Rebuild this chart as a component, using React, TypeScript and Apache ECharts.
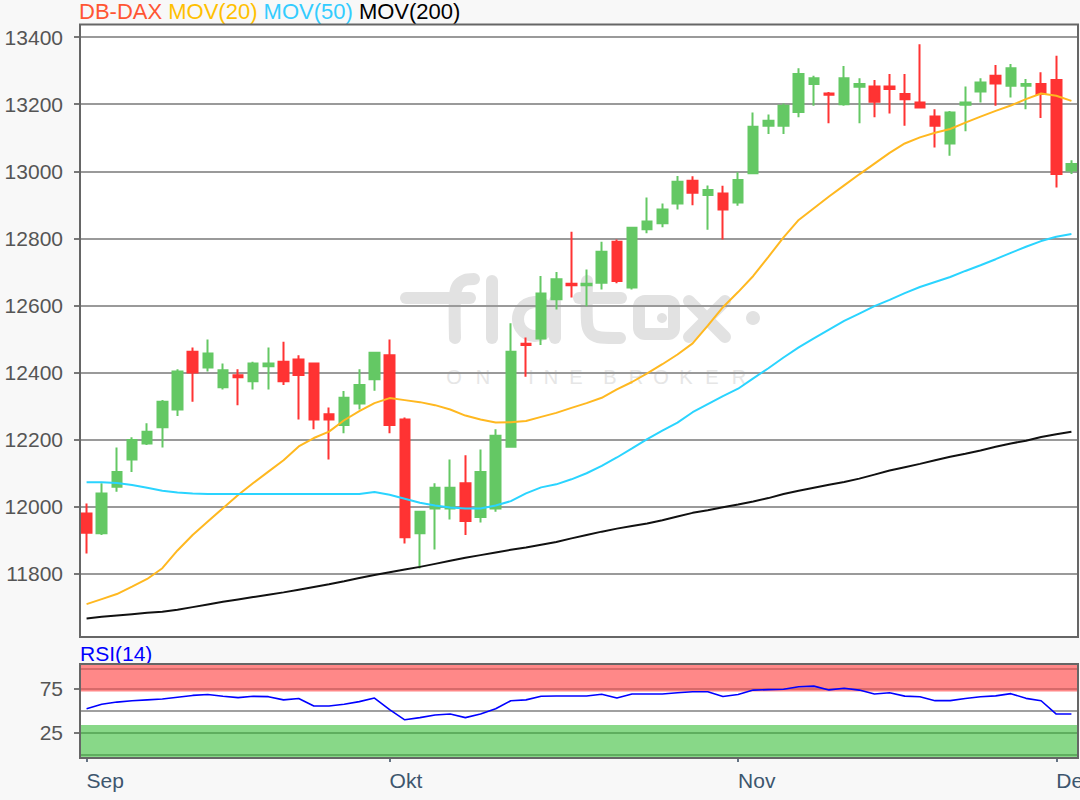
import React, { useEffect, useRef } from "react";
import * as echarts from "echarts";

// ---- data ----
const categories = [
  "03.09.2019", "04.09.2019", "05.09.2019", "06.09.2019", "09.09.2019", "10.09.2019", "11.09.2019", "12.09.2019", "13.09.2019", "16.09.2019",
  "17.09.2019", "18.09.2019", "19.09.2019", "20.09.2019", "23.09.2019", "24.09.2019", "25.09.2019", "26.09.2019", "27.09.2019", "30.09.2019",
  "01.10.2019", "02.10.2019", "03.10.2019", "04.10.2019", "07.10.2019", "08.10.2019", "09.10.2019", "10.10.2019", "11.10.2019", "14.10.2019",
  "15.10.2019", "16.10.2019", "17.10.2019", "18.10.2019", "21.10.2019", "22.10.2019", "23.10.2019", "24.10.2019", "25.10.2019", "28.10.2019",
  "29.10.2019", "30.10.2019", "31.10.2019", "01.11.2019", "04.11.2019", "05.11.2019", "06.11.2019", "07.11.2019", "08.11.2019", "11.11.2019",
  "12.11.2019", "13.11.2019", "14.11.2019", "15.11.2019", "18.11.2019", "19.11.2019", "20.11.2019", "21.11.2019", "22.11.2019", "25.11.2019",
  "26.11.2019", "27.11.2019", "28.11.2019", "29.11.2019", "02.12.2019", "03.12.2019",
];

const opens = [
  11980, 11921, 12060, 12141, 12189, 12237, 12290, 12462, 12415, 12356,
  12392, 12374, 12419, 12432, 12439, 12427, 12276, 12244, 12308, 12380,
  12452, 12260, 11921, 11995, 11995, 12070, 11970, 11995, 12179, 12486,
  12502, 12619, 12665, 12660, 12668, 12790, 12654, 12827, 12845, 12904,
  12972, 12929, 12934, 12907, 12994, 13136, 13136, 13177, 13260, 13232,
  13200, 13252, 13253, 13253, 13230, 13205, 13163, 13083, 13198, 13238,
  13285, 13255, 13255, 13260, 13272, 13002,
];
const closes = [
  11923, 12040, 12104, 12199, 12224, 12313, 12403, 12400, 12457, 12407,
  12386, 12427, 12427, 12374, 12393, 12260, 12260, 12325, 12363, 12459,
  12244, 11909, 11985, 12057, 12057, 11958, 12104, 12212, 12462, 12482,
  12636, 12678, 12660, 12665, 12760, 12673, 12832, 12850, 12886, 12969,
  12936, 12944, 12886, 12974, 13133, 13151, 13195, 13290, 13277, 13228,
  13277, 13260, 13207, 13245, 13215, 13190, 13136, 13175, 13205, 13265,
  13262, 13307, 13260, 13230, 12992, 13022,
];
const lows = [
  11861, 11916, 12045, 12104, 12184, 12177, 12271, 12313, 12403, 12350,
  12303, 12350, 12350, 12363, 12260, 12231, 12141, 12219, 12290, 12346,
  12219, 11891, 11816, 11873, 11962, 11916, 11953, 11985, 12179, 12388,
  12482, 12588, 12624, 12598, 12648, 12666, 12648, 12815, 12833, 12886,
  12899, 12826, 12797, 12897, 12994, 13111, 13111, 13161, 13195, 13143,
  13195, 13143, 13161, 13172, 13136, 13190, 13071, 13046, 13119, 13205,
  13195, 13220, 13185, 13159, 12952, 12992,
];
const highs = [
  12010, 12070, 12177, 12207, 12249, 12318, 12410, 12475, 12499, 12427,
  12410, 12432, 12475, 12492, 12452, 12427, 12296, 12345, 12410, 12462,
  12499, 12266, 11985, 12070, 12141, 12154, 12171, 12231, 12547, 12505,
  12688, 12700, 12820, 12707, 12790, 12797, 12832, 12922, 12904, 12986,
  12985, 12958, 12957, 12997, 13175, 13169, 13202, 13307, 13285, 13236,
  13314, 13277, 13272, 13290, 13290, 13379, 13185, 13180, 13253, 13277,
  13317, 13320, 13275, 13295, 13344, 13033,
];

const mov20 = [
  11710, 11725, 11740, 11762, 11785, 11817, 11870, 11916, 11956, 11996,
  12035, 12071, 12105, 12139, 12180, 12205, 12224, 12258, 12285, 12309,
  12324, 12318, 12312, 12303, 12290, 12272, 12260, 12251, 12252, 12256,
  12268, 12280, 12295, 12309, 12325, 12350, 12372, 12398, 12425, 12454,
  12487, 12540, 12595, 12640, 12688, 12745, 12803, 12855, 12890, 12925,
  12958, 12991, 13023, 13055, 13083, 13101, 13115, 13126, 13145, 13163,
  13180, 13196, 13215, 13232, 13225, 13210,
];
const mov50 = [
  12073, 12073, 12071, 12065, 12057, 12048, 12043, 12040, 12038, 12038,
  12038, 12038, 12038, 12038, 12038, 12038, 12038, 12038, 12038, 12044,
  12036, 12024, 12012, 12004, 11998, 11995, 11995, 12004, 12017, 12040,
  12058, 12067, 12082, 12100, 12122, 12147, 12174, 12202, 12227, 12251,
  12282, 12306, 12330, 12352, 12383, 12413, 12445, 12475, 12502, 12528,
  12554, 12576, 12598, 12617, 12637, 12655, 12670, 12685, 12703, 12720,
  12738, 12757, 12775, 12792, 12805, 12813,
];
const mov200 = [
  11667, 11672, 11676, 11680, 11684, 11687, 11693, 11701, 11709, 11717,
  11724, 11731, 11738, 11745, 11753, 11761, 11769, 11778, 11788, 11797,
  11805, 11813, 11821, 11830, 11839, 11848, 11856, 11864, 11872, 11879,
  11887, 11895, 11906, 11916, 11926, 11935, 11943, 11950, 11960, 11971,
  11982, 11990, 11999, 12007, 12016, 12026, 12038, 12048, 12057, 12066,
  12074, 12084, 12096, 12108, 12118, 12128, 12139, 12149, 12158, 12168,
  12179, 12189, 12197, 12208, 12216, 12224,
];
const rsi14 = [
  52, 57, 59.5, 61, 62, 63, 65, 67, 68, 66,
  64.5, 66, 65.6, 62, 63.5, 55, 55, 57, 60, 64,
  51, 39.5, 42, 45, 46, 42, 46, 52, 61, 62,
  66, 66.3, 66.3, 66.3, 68.4, 64, 68.6, 68.6, 68.6, 70,
  71.2, 71.2, 65.8, 68, 73, 73.5, 74, 76.8, 77.5, 73.2,
  75, 73, 68.6, 70, 66.2, 65.5, 61.1, 61.1, 63.5, 65.5,
  66.5, 69, 63.7, 61, 46, 46,
];

const priceTicks = [11800, 12000, 12200, 12400, 12600, 12800, 13000, 13200, 13400];
const rsiTicks = [25, 75];
const rsiOverbought = [71.4, 101.3];
const rsiOversold = [-2.7, 33.6];
const monthNames: Record<string, string> = { "09": "Sep", "10": "Okt", "11": "Nov", "12": "Dez" };

const FONT = '"Liberation Sans", Arial, sans-serif';
const GREEN = "#64c864";
const RED = "#ff3333";
const WM = "#e2e2e2";

const monthOf = (s: string) => s.slice(3, 5);
const isMonthStart = (i: number) => i === 0 || monthOf(categories[i]) !== monthOf(categories[i - 1]);

function buildOption(): any {
  const candles = categories.map((_, i) => [opens[i], closes[i], lows[i], highs[i]]);
  const stroke = (points: number[][], w = 12) => ({
    type: "polyline",
    silent: true,
    z: -1,
    shape: { points, smooth: 0.3 },
    style: { stroke: WM, lineWidth: w, lineCap: "round", lineJoin: "round", fill: null },
  });
  const wmLetters: [string, number][] = [
    ["O", 454], ["N", 483], ["L", 511], ["I", 531], ["N", 551], ["E", 576],
    ["B", 610], ["R", 636], ["O", 661], ["K", 686], ["E", 712], ["R", 739],
  ];
  const graphics: any[] = [
    { type: "rect", silent: true, z: -2, shape: { x: 80, y: 24, width: 998, height: 613 }, style: { fill: "#ffffff" } },
    { type: "rect", silent: true, z: -2, shape: { x: 80, y: 664, width: 998, height: 94 }, style: { fill: "#ffffff" } },
    // watermark "flatex"
    stroke([[455, 338], [455, 296], [458, 285], [465, 280], [474, 279]]),
    stroke([[406, 298], [470, 298]]),
    stroke([[492, 281], [492, 338]]),
    { type: "circle", silent: true, z: -1, shape: { cx: 535, cy: 319, r: 17 }, style: { stroke: WM, lineWidth: 12, fill: "rgba(0,0,0,0)" } },
    stroke([[555, 301], [555, 338]]),
    stroke([[587, 281], [587, 322], [590, 332], [598, 337], [620, 338]]),
    stroke([[579, 298], [621, 298]]),
    { type: "rect", silent: true, z: -1, shape: { x: 639, y: 301, width: 35, height: 33, r: 6 }, style: { stroke: WM, lineWidth: 12, fill: "rgba(0,0,0,0)" } },
    { type: "circle", silent: true, z: -1, shape: { cx: 662, cy: 318, r: 5 }, style: { fill: WM } },
    stroke([[689, 301], [725, 337]]),
    stroke([[725, 301], [689, 337]]),
    { type: "circle", silent: true, z: -1, shape: { cx: 753, cy: 318, r: 7 }, style: { fill: WM } },
    ...wmLetters.map(([ch, x]) => ({
      type: "text",
      silent: true,
      z: -1,
      style: { text: ch, x, y: 377, fill: "#e6e6e6", font: `20px ${FONT}`, textAlign: "center", textVerticalAlign: "middle" },
    })),
    // borders
    { type: "rect", silent: true, z: 100, shape: { x: 80, y: 24.5, width: 998, height: 612.5 }, style: { fill: "rgba(0,0,0,0)", stroke: "#666", lineWidth: 2 } },
    { type: "rect", silent: true, z: 100, shape: { x: 80, y: 664, width: 998, height: 94 }, style: { fill: "rgba(0,0,0,0)", stroke: "#666", lineWidth: 2 } },
  ];

  return {
    animation: false,
    backgroundColor: "#f8f8f8",
    title: [
      {
        left: 79,
        top: 0,
        padding: 0,
        text: "{a|DB-DAX} {b|MOV(20)} {c|MOV(50)} {d|MOV(200)}",
        textStyle: {
          fontFamily: FONT,
          fontSize: 22,
          fontWeight: "normal",
          color: "#000",
          rich: {
            a: { color: "#ff5533", fontSize: 22, fontFamily: FONT },
            b: { color: "#ffc000", fontSize: 22, fontFamily: FONT },
            c: { color: "#33ccff", fontSize: 22, fontFamily: FONT },
            d: { color: "#000000", fontSize: 22, fontFamily: FONT },
          },
        },
      },
      {
        left: 80,
        top: 643,
        padding: 0,
        text: "RSI(14)",
        textStyle: { fontFamily: FONT, fontSize: 21, fontWeight: "normal", color: "#0000ff" },
      },
    ],
    grid: [
      { left: 79, right: 1, top: 24, height: 613, show: false, containLabel: false, outerBoundsMode: "none" },
      { left: 79, right: 1, top: 664, height: 94, show: false, containLabel: false, outerBoundsMode: "none" },
    ],
    xAxis: [
      { type: "category", gridIndex: 0, data: categories, boundaryGap: true, show: false },
      {
        type: "category",
        gridIndex: 1,
        data: categories,
        boundaryGap: true,
        axisLine: { show: false },
        axisTick: {
          show: true,
          alignWithLabel: true,
          interval: (i: number) => isMonthStart(i),
          length: 7,
          lineStyle: { color: "#34495e", width: 1.5 },
        },
        axisLabel: {
          interval: (i: number) => isMonthStart(i),
          formatter: (v: string) => monthNames[monthOf(v)] || "",
          align: "left",
          color: "#3d566e",
          fontSize: 21,
          fontFamily: FONT,
          margin: 12,
          hideOverlap: false,
        },
        splitLine: { show: false },
      },
      // helper axis spanning the full RSI panel width, for the zone bands
      { type: "value", gridIndex: 1, min: 0, max: 1, show: false },
    ],
    yAxis: [
      {
        type: "value",
        gridIndex: 0,
        min: 11612,
        max: 13439,
        splitNumber: 9,
        axisLine: { show: false },
        axisTick: { show: true, customValues: priceTicks, length: 5, lineStyle: { color: "#777", width: 2 } },
        axisLabel: {
          customValues: priceTicks,
          formatter: (v: number) => String(v),
          color: "#555",
          fontSize: 21,
          fontFamily: FONT,
          margin: 16,
        },
        splitLine: { show: true, lineStyle: { color: "#9a9a9a", width: 2 } },
      },
      {
        type: "value",
        gridIndex: 1,
        min: -3.5,
        max: 102.4,
        axisLine: { show: false },
        axisTick: { show: true, customValues: rsiTicks, length: 5, lineStyle: { color: "#777", width: 2 } },
        axisLabel: {
          customValues: rsiTicks,
          formatter: (v: number) => String(v),
          color: "#555",
          fontSize: 21,
          fontFamily: FONT,
          margin: 16,
        },
        splitLine: { show: false },
      },
    ],
    series: [
      {
        name: "DB-DAX",
        type: "candlestick",
        xAxisIndex: 0,
        yAxisIndex: 0,
        data: candles,
        barWidth: 10,
        itemStyle: { color: GREEN, color0: RED, borderColor: GREEN, borderColor0: RED, borderWidth: 2 },
      },
      {
        name: "MOV(20)",
        type: "line",
        xAxisIndex: 0,
        yAxisIndex: 0,
        data: mov20,
        symbol: "none",
        lineStyle: { color: "#ffb820", width: 2 },
      },
      {
        name: "MOV(50)",
        type: "line",
        xAxisIndex: 0,
        yAxisIndex: 0,
        data: mov50,
        symbol: "none",
        lineStyle: { color: "#2ad4ff", width: 2 },
      },
      {
        name: "MOV(200)",
        type: "line",
        xAxisIndex: 0,
        yAxisIndex: 0,
        data: mov200,
        symbol: "none",
        lineStyle: { color: "#111111", width: 2 },
      },
      {
        name: "RSI zones",
        type: "line",
        xAxisIndex: 2,
        yAxisIndex: 1,
        data: [[0, 50]],
        symbol: "none",
        silent: true,
        z: 1,
        lineStyle: { opacity: 0 },
        markArea: {
          silent: true,
          data: [
            [{ yAxis: rsiOverbought[0], itemStyle: { color: "#ff8888", opacity: 1 } }, { yAxis: rsiOverbought[1] }],
            [{ yAxis: rsiOversold[0], itemStyle: { color: "#88d888", opacity: 1 } }, { yAxis: rsiOversold[1] }],
          ],
        },
        markLine: {
          silent: true,
          symbol: "none",
          label: { show: false },
          data: [
            { yAxis: 96.6, lineStyle: { color: "#d86a6a", width: 2, type: "solid" } },
            { yAxis: 75, lineStyle: { color: "#d86a6a", width: 2, type: "solid" } },
            { yAxis: 50, lineStyle: { color: "#a0a0a0", width: 2, type: "solid" } },
            { yAxis: 25, lineStyle: { color: "#5fae5f", width: 2, type: "solid" } },
            { yAxis: 0.6, lineStyle: { color: "#5fae5f", width: 2, type: "solid" } },
          ],
        },
      },
      {
        name: "RSI(14)",
        type: "line",
        xAxisIndex: 1,
        yAxisIndex: 1,
        data: rsi14,
        symbol: "none",
        z: 5,
        lineStyle: { color: "#0000ff", width: 1.6 },
      },
    ],
    graphic: { elements: graphics },
  };
}

export default function App() {
  const ref = useRef<HTMLDivElement>(null);
  useEffect(() => {
    if (!ref.current) return;
    const chart = echarts.init(ref.current, null, { renderer: "svg" });
    chart.setOption(buildOption());
    return () => chart.dispose();
  }, []);
  return (
    <div
      ref={ref}
      style={{ position: "absolute", left: 0, top: 0, width: 1080, height: 800, background: "#f8f8f8" }}
    />
  );
}
